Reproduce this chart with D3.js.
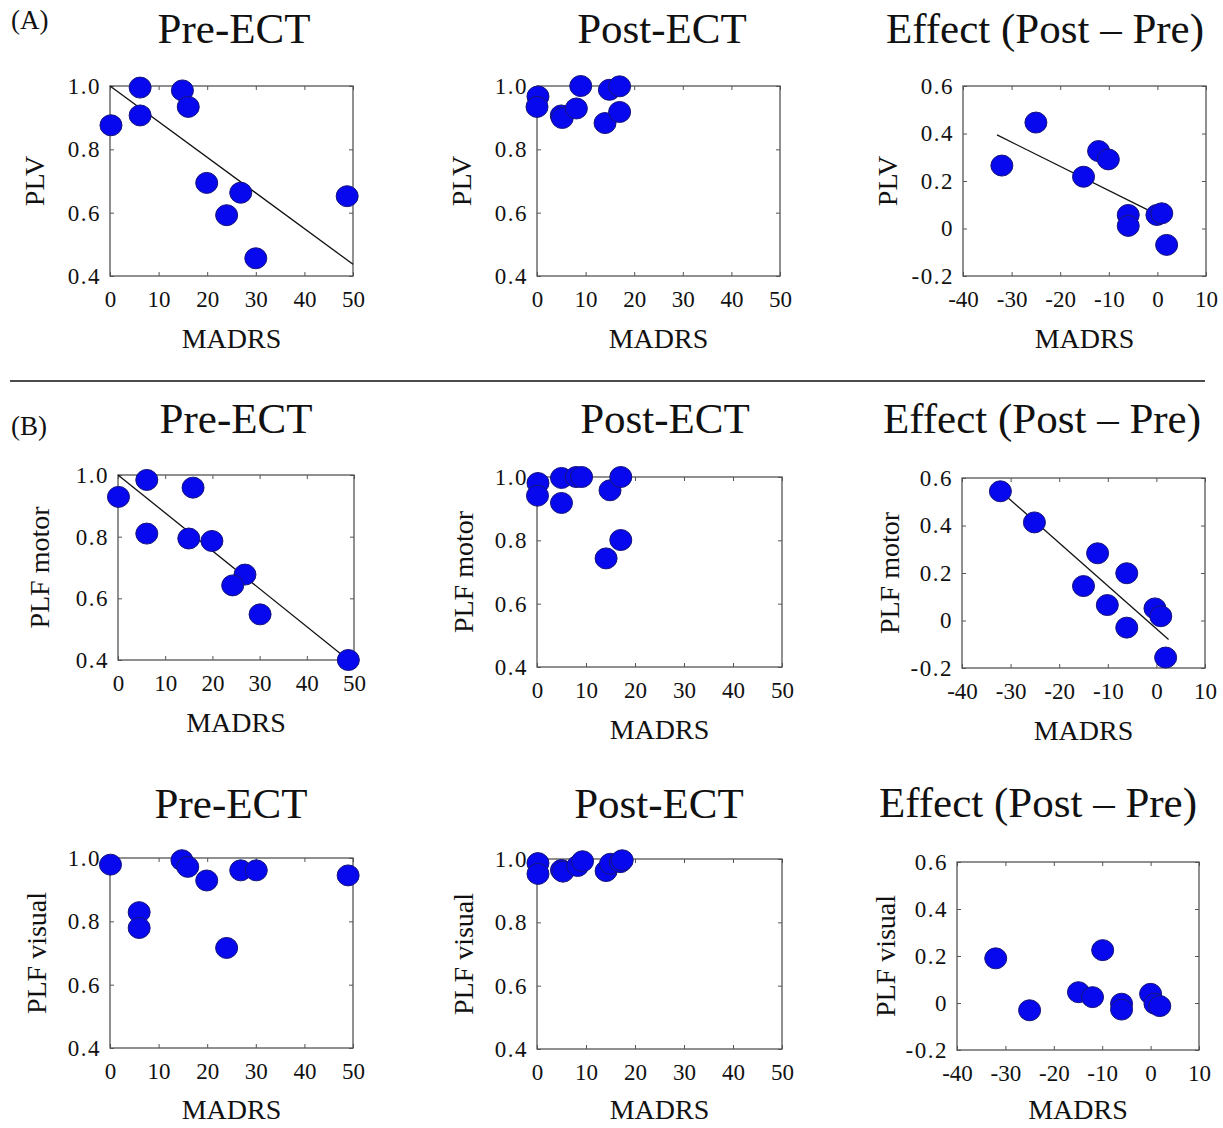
<!DOCTYPE html>
<html lang="en">
<head>
<meta charset="UTF-8">
<title>PLV / PLF vs MADRS</title>
<script src="https://cdn.jsdelivr.net/npm/d3@7/dist/d3.min.js"></script>
<style>
  body { margin: 0; background: #fff; }
  svg text { font-family: "Liberation Serif", "Times New Roman", serif; fill: #111; }
</style>
</head>
<body>
<script>
// ---- data ----
// (A) PLV
var plvPreX  = [0.2, 6.2, 6.2, 14.9, 16.1, 19.9, 24.0, 26.9, 30.0, 48.8];
var plvPreY  = [0.876, 0.995, 0.907, 0.986, 0.934, 0.694, 0.592, 0.663, 0.456, 0.652];
var plvPreFit = [[0, 1.0], [50, 0.437]];

var plvPostX = [0.2, 0.0, 5.0, 5.2, 8.1, 9.0, 14.0, 14.9, 17.0, 17.0];
var plvPostY = [0.967, 0.934, 0.907, 0.899, 0.929, 1.0, 0.883, 0.988, 0.999, 0.918];

var plvEffX  = [-32.0, -25.0, -12.1, -10.1, -15.2, -6.0, -6.0, -0.1, 0.9, 1.9];
var plvEffY  = [0.265, 0.446, 0.326, 0.291, 0.218, 0.057, 0.011, 0.057, 0.064, -0.069];
var plvEffFit = [[-33, 0.394], [0.6, 0.052]];

// (B) PLF motor
var motorPreX  = [0.1, 6.1, 6.1, 15.9, 15.0, 19.9, 26.9, 24.3, 30.1, 48.8];
var motorPreY  = [0.929, 0.984, 0.810, 0.959, 0.794, 0.786, 0.677, 0.642, 0.548, 0.400];
var motorPreFit = [[0, 1.0], [48.8, 0.40]];

var motorPostX = [0.2, 0.1, 5.0, 5.0, 8.0, 9.1, 14.9, 17.1, 14.1, 17.1];
var motorPostY = [0.981, 0.941, 0.997, 0.918, 1.0, 1.0, 0.958, 1.0, 0.743, 0.801];

var motorEffX  = [-32.1, -25.1, -12.1, -6.1, -15.0, -10.1, -6.1, -0.3, 0.9, 1.9];
var motorEffY  = [0.544, 0.413, 0.283, 0.199, 0.145, 0.065, -0.030, 0.051, 0.018, -0.156];
var motorEffFit = [[-32.8, 0.558], [2.5, -0.080]];

// PLF visual
var visualPreX  = [0.1, 6.0, 6.0, 14.8, 16.0, 19.9, 24.0, 26.9, 30.1, 49.0];
var visualPreY  = [0.979, 0.829, 0.779, 0.993, 0.972, 0.929, 0.716, 0.961, 0.961, 0.945];

var visualPostX = [0.2, 0.2, 5.0, 5.3, 8.3, 9.3, 14.1, 15.0, 17.0, 17.4];
var visualPostY = [0.987, 0.953, 0.965, 0.960, 0.978, 0.993, 0.962, 0.985, 0.990, 0.996];

var visualEffX  = [-32.0, -25.0, -14.9, -12.0, -9.9, -6.0, -6.0, 0.0, 0.9, 1.9];
var visualEffY  = [0.190, -0.031, 0.046, 0.025, 0.225, -0.003, -0.028, 0.039, -0.003, -0.013];

// axes
var madrsTicks    = [0, 10, 20, 30, 40, 50];
var madrsEffTicks = [-40, -30, -20, -10, 0, 10];
var levelTicks    = [0.4, 0.6, 0.8, 1.0];
var effTicks      = [-0.2, 0, 0.2, 0.4, 0.6];

// ---- layout ----
var w = 1223, h = 1128;
var svg = d3.select("body").append("svg")
    .attr("width", w)
    .attr("height", h);

var panels = [
  {x: plvPreX, y: plvPreY, fit: plvPreFit, kind: "level", ylab: "PLV", title: "Pre-ECT",
   box: [110, 353, 86, 276], tx: 234, ty: 43, lx: 72},
  {x: plvPostX, y: plvPostY, kind: "level", ylab: "PLV", title: "Post-ECT",
   box: [537, 780, 86, 276], tx: 662, ty: 43, lx: 72},
  {x: plvEffX, y: plvEffY, fit: plvEffFit, kind: "eff", ylab: "PLV", title: "Effect (Post \u2013 Pre)",
   box: [963, 1206, 86, 276], tx: 1045, ty: 43, lx: 72},
  {x: motorPreX, y: motorPreY, fit: motorPreFit, kind: "level", ylab: "PLF motor", title: "Pre-ECT",
   box: [118, 354, 475, 660], tx: 236, ty: 433, lx: 75},
  {x: motorPostX, y: motorPostY, kind: "level", ylab: "PLF motor", title: "Post-ECT",
   box: [537, 782, 477, 667], tx: 665, ty: 433, lx: 70},
  {x: motorEffX, y: motorEffY, fit: motorEffFit, kind: "eff", ylab: "PLF motor", title: "Effect (Post \u2013 Pre)",
   box: [962, 1205, 478, 668], tx: 1042, ty: 433, lx: 69},
  {x: visualPreX, y: visualPreY, kind: "level", ylab: "PLF visual", title: "Pre-ECT",
   box: [110, 353, 858, 1048], tx: 231, ty: 818, lx: 70},
  {x: visualPostX, y: visualPostY, kind: "level", ylab: "PLF visual", title: "Post-ECT",
   box: [537, 782, 859, 1049], tx: 659, ty: 818, lx: 70},
  {x: visualEffX, y: visualEffY, kind: "eff", ylab: "PLF visual", title: "Effect (Post \u2013 Pre)",
   box: [957, 1199, 862, 1050], tx: 1038, ty: 817, lx: 68}
];

var plainFmt = function(d) { return d === 0 ? "0" : String(d); };
var oneDec = function(d) { return d === 0 ? "0" : d.toFixed(1); };

panels.forEach(function(p) {
  var x0 = p.box[0], x1 = p.box[1], y0 = p.box[2], y1 = p.box[3];
  var isEff = p.kind === "eff";

  var xScale = d3.scaleLinear()
      .domain(isEff ? [-40, 10] : [0, 50])
      .range([x0, x1]);
  var yScale = d3.scaleLinear()
      .domain(isEff ? [-0.2, 0.6] : [0.4, 1.0])
      .range([y1, y0]);

  var xt = isEff ? madrsEffTicks : madrsTicks;
  var yt = isEff ? effTicks : levelTicks;

  var g = svg.append("g");

  // bottom + left axes with labels, ticks pointing inward
  g.append("g")
    .attr("transform", "translate(0," + y1 + ")")
    .attr("color", "#555")
    .call(d3.axisBottom(xScale).tickValues(xt).tickSizeInner(-4).tickSizeOuter(0)
      .tickPadding(15).tickFormat(plainFmt))
    .call(function(a) { a.select(".domain").remove(); })
    .selectAll("text").style("font-size", "23px");

  g.append("g")
    .attr("transform", "translate(" + x0 + ",0)")
    .attr("color", "#555")
    .call(d3.axisLeft(yScale).tickValues(yt).tickSizeInner(-4).tickSizeOuter(0)
      .tickPadding(9).tickFormat(isEff ? oneDec : d3.format(".1f")))
    .call(function(a) { a.select(".domain").remove(); })
    .selectAll("text")
      .style("font-size", "23px")
      .style("letter-spacing", "1.5px");

  // top + right ticks only
  g.append("g")
    .attr("transform", "translate(0," + y0 + ")")
    .attr("color", "#555")
    .call(d3.axisTop(xScale).tickValues(xt).tickSizeInner(-4).tickSizeOuter(0).tickFormat(""))
    .call(function(a) { a.select(".domain").remove(); });

  g.append("g")
    .attr("transform", "translate(" + x1 + ",0)")
    .attr("color", "#555")
    .call(d3.axisRight(yScale).tickValues(yt).tickSizeInner(-4).tickSizeOuter(0).tickFormat(""))
    .call(function(a) { a.select(".domain").remove(); });

  // box
  g.append("rect")
    .attr("x", x0).attr("y", y0)
    .attr("width", x1 - x0).attr("height", y1 - y0)
    .attr("fill", "none")
    .attr("stroke", "#555")
    .attr("stroke-width", 1.3);

  // regression line
  if (p.fit) {
    g.append("path")
      .datum(p.fit)
      .attr("fill", "none")
      .attr("stroke", "#111")
      .attr("stroke-width", 1.3)
      .attr("d", d3.line()
        .x(function(d) { return xScale(d[0]); })
        .y(function(d) { return yScale(d[1]); }));
  }

  // points
  var pts = p.x.map(function(v, i) { return [v, p.y[i]]; });
  g.selectAll("ellipse")
    .data(pts)
    .enter()
    .append("ellipse")
    .attr("cx", function(d) { return xScale(d[0]); })
    .attr("cy", function(d) { return yScale(d[1]); })
    .attr("rx", 11)
    .attr("ry", 10.5)
    .attr("fill", "#0808ee")
    .attr("stroke", "#14147a")
    .attr("stroke-width", 1);

  // axis titles
  g.append("text")
    .attr("x", (x0 + x1) / 2)
    .attr("y", Math.min(y1 + 72, 1119))
    .attr("text-anchor", "middle")
    .style("font-size", "28px")
    .text("MADRS");

  g.append("text")
    .attr("transform", "translate(" + (x0 - p.lx + 6) + "," + ((y0 + y1) / 2) + ") rotate(-90)")
    .attr("text-anchor", "middle")
    .style("font-size", "28px")
    .text(p.ylab);

  // panel title
  g.append("text")
    .attr("x", p.tx)
    .attr("y", p.ty)
    .attr("text-anchor", "middle")
    .style("font-size", "43px")
    .text(p.title);
});

// section labels and separator
svg.append("text")
  .attr("x", 11).attr("y", 29)
  .style("font-size", "27px")
  .text("(A)");

svg.append("text")
  .attr("x", 11).attr("y", 435)
  .style("font-size", "27px")
  .text("(B)");

svg.append("line")
  .attr("x1", 10).attr("x2", 1205)
  .attr("y1", 381).attr("y2", 381)
  .attr("stroke", "#111")
  .attr("stroke-width", 1.5);
</script>
</body>
</html>
